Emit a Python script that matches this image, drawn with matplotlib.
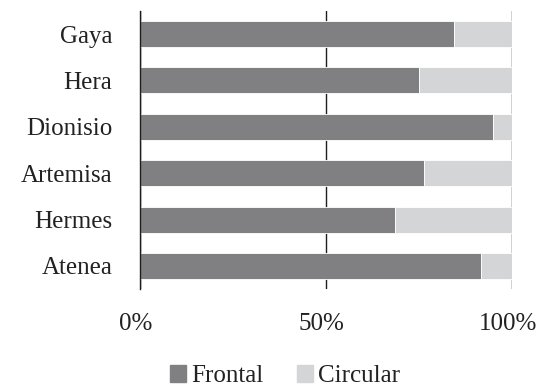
import numpy as np
import matplotlib.pyplot as plt
import matplotlib.transforms as mtransforms
from matplotlib.patches import Patch

# Categories, top to bottom as shown
categories = ['Gaya', 'Hera', 'Dionisio', 'Artemisa', 'Hermes', 'Atenea']
frontal = [84.5, 75.0, 95.0, 76.5, 68.5, 91.7]
circular = [100 - v for v in frontal]

c_front = '#808083'
c_circ = '#d4d5d6'

plt.rcParams['font.family'] = ['Liberation Serif', 'DejaVu Serif']
fs = 18

fig = plt.figure(figsize=(5.38, 3.87), dpi=100)
ax = fig.add_axes([140 / 538, 1 - 289.2 / 387, 371.7 / 538, 278.4 / 387])

y = np.arange(len(categories))
ax.barh(y, frontal, height=0.56, color=c_front, edgecolor='white', linewidth=0.6, zorder=3)
ax.barh(y, circular, left=frontal, height=0.56, color=c_circ, edgecolor='white', linewidth=0.6, zorder=3)

ax.set_xlim(0, 100)
ax.set_ylim(len(categories) - 0.5, -0.5)
ax.set_yticks(y)
ax.set_yticklabels(categories, fontsize=fs, color='#222222')
ax.set_xticks([0, 50, 100])
ax.set_xticklabels(['0%', '50%', '100%'], fontsize=fs, color='#222222')
ax.tick_params(axis='y', length=0, pad=20)
ax.tick_params(axis='x', length=0, pad=17)

# x labels sit a little left of their gridlines in the original
shift = mtransforms.ScaledTranslation(-4 / 100, 0, fig.dpi_scale_trans)
for lbl in ax.get_xticklabels():
    lbl.set_transform(lbl.get_transform() + shift)

for s in ['top', 'right', 'bottom']:
    ax.spines[s].set_visible(False)
ax.spines['left'].set_color('#1e1e1e')
ax.spines['left'].set_linewidth(1.0)
ax.spines['left'].set_zorder(4)

ax.xaxis.grid(True, color='#1e1e1e', linewidth=1.0)
ax.set_axisbelow(True)

handles = [Patch(color=c_front, label='Frontal'), Patch(color=c_circ, label='Circular')]
fig.legend(handles=handles, loc='center', bbox_to_anchor=(285 / 538, 1 - 376 / 387), ncol=2,
           frameon=False, fontsize=fs, handlelength=0.64, handleheight=0.64,
           handletextpad=0.2, columnspacing=1.36, labelcolor='#222222',
           borderpad=0, borderaxespad=0)

fig.savefig('out.png', dpi=100)
